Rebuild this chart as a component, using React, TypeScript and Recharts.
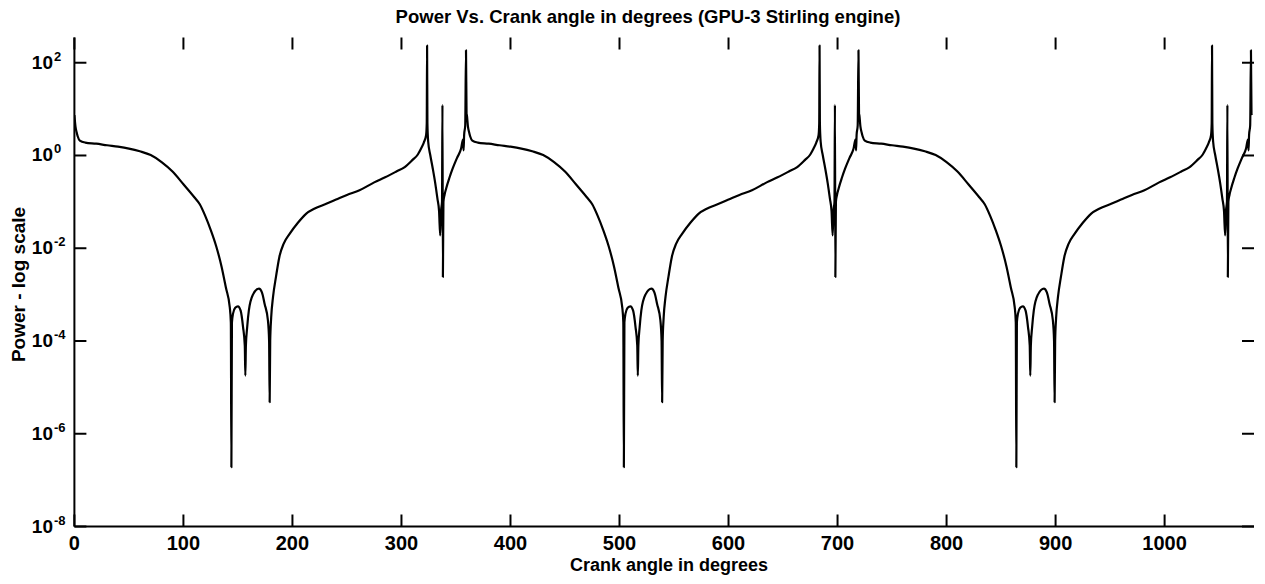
import React from "react";
import { LineChart, Line, XAxis, YAxis } from "recharts";

// ---------- data ----------
const ANGLES_C1 = [0, 1, 2, 3, 5, 10, 20, 30, 40, 50, 60, 70, 80, 90, 100, 110, 115, 120, 125, 130, 135, 139,
  142.5, 143.5, 144, 144.5, 145.5, 147.5, 150, 152.5, 154.7, 156.3, 156.8, 157.3, 158.5, 160,
  163.8, 169.3, 172, 174.5, 177.5, 178.6, 179.1, 179.6, 180.5, 182.2,
  185, 188, 192, 197.4, 205, 212.7, 220, 231, 240, 250, 261.5, 275, 285, 295, 303, 310, 315, 318, 320.5, 322.6,
  323.2, 323.5, 323.8, 324.5, 326.5, 328.7, 331, 333, 334.5, 335.5, 336.3, 337.2, 337.6, 338.0, 338.5, 339.5,
  341, 344, 347, 351, 354.7, 356.5, 357.0, 357.5, 358.5, 359.2, 359.7];
const POWER_C1 = [7.4, 4.2, 3.2, 2.6, 2.1, 1.9, 1.8, 1.66, 1.55, 1.41, 1.23, 1.02, 0.72, 0.45, 0.24, 0.126, 0.089, 0.05, 0.025, 0.0112, 0.004, 0.0014,
  5.4e-4, 2.5e-4, 1.9e-7, 2.5e-4, 3.9e-4, 5.2e-4, 5.6e-4, 4.5e-4, 2.0e-4, 7.9e-5, 1.8e-5, 7.9e-5, 2.0e-4, 4.5e-4,
  1.0e-3, 1.35e-3, 1.12e-3, 6.3e-4, 2.8e-4, 1.0e-4, 4.8e-6, 1.0e-4, 3.2e-4, 8.9e-4,
  2.5e-3, 6.5e-3, 0.0126, 0.0204, 0.0355, 0.056, 0.071, 0.091, 0.112, 0.141, 0.178, 0.263, 0.339, 0.447, 0.562, 0.794, 1.05, 1.41, 1.9, 2.75,
  5.0, 234, 5.0, 2.0, 1.0, 0.525, 0.251, 0.117, 0.063, 0.019, 0.063, 0.1, 12.3, 0.0024, 0.1, 0.141,
  0.195, 0.331, 0.525, 0.89, 1.41, 2.24, 1.29, 2.8, 4.5, 186, 7.9];

const ANGLES_C2 = [360, 361, 362, 363, 365, 370, 380, 390, 400, 410, 420, 430, 440, 450, 460, 470, 475, 480, 485, 490, 495, 499,
  502.5, 503.5, 504, 504.5, 505.5, 507.5, 510, 512.5, 514.7, 516.3, 516.8, 517.3, 518.5, 520,
  523.8, 529.3, 532, 534.5, 537.5, 538.6, 539.1, 539.6, 540.5, 542.2,
  545, 548, 552, 557.4, 565, 572.7, 580, 591, 600, 610, 621.5, 635, 645, 655, 663, 670, 675, 678, 680.5, 682.6,
  683.2, 683.5, 683.8, 684.5, 686.5, 688.7, 691, 693, 694.5, 695.5, 696.3, 697.2, 697.6, 698.0, 698.5, 699.5,
  701, 704, 707, 711, 714.7, 716.5, 717.0, 717.5, 718.5, 719.2, 719.7];
const POWER_C2 = [7.4, 4.2, 3.2, 2.6, 2.1, 1.9, 1.8, 1.66, 1.55, 1.41, 1.23, 1.02, 0.72, 0.45, 0.24, 0.126, 0.089, 0.05, 0.025, 0.0112, 0.004, 0.0014,
  5.4e-4, 2.5e-4, 1.9e-7, 2.5e-4, 3.9e-4, 5.2e-4, 5.6e-4, 4.5e-4, 2.0e-4, 7.9e-5, 1.8e-5, 7.9e-5, 2.0e-4, 4.5e-4,
  1.0e-3, 1.35e-3, 1.12e-3, 6.3e-4, 2.8e-4, 1.0e-4, 4.8e-6, 1.0e-4, 3.2e-4, 8.9e-4,
  2.5e-3, 6.5e-3, 0.0126, 0.0204, 0.0355, 0.056, 0.071, 0.091, 0.112, 0.141, 0.178, 0.263, 0.339, 0.447, 0.562, 0.794, 1.05, 1.41, 1.9, 2.75,
  5.0, 234, 5.0, 2.0, 1.0, 0.525, 0.251, 0.117, 0.063, 0.019, 0.063, 0.1, 12.3, 0.0024, 0.1, 0.141,
  0.195, 0.331, 0.525, 0.89, 1.41, 2.24, 1.29, 2.8, 4.5, 186, 7.9];

const ANGLES_C3 = [720, 721, 722, 723, 725, 730, 740, 750, 760, 770, 780, 790, 800, 810, 820, 830, 835, 840, 845, 850, 855, 859,
  862.5, 863.5, 864, 864.5, 865.5, 867.5, 870, 872.5, 874.7, 876.3, 876.8, 877.3, 878.5, 880,
  883.8, 889.3, 892, 894.5, 897.5, 898.6, 899.1, 899.6, 900.5, 902.2,
  905, 908, 912, 917.4, 925, 932.7, 940, 951, 960, 970, 981.5, 995, 1005, 1015, 1023, 1030, 1035, 1038, 1040.5, 1042.6,
  1043.2, 1043.5, 1043.8, 1044.5, 1046.5, 1048.7, 1051, 1053, 1054.5, 1055.5, 1056.3, 1057.2, 1057.6, 1058.0, 1058.5, 1059.5,
  1061, 1064, 1067, 1071, 1074.7, 1076.5, 1077.0, 1077.5, 1078.5, 1079.2, 1079.7, 1080];
const POWER_C3 = [7.4, 4.2, 3.2, 2.6, 2.1, 1.9, 1.8, 1.66, 1.55, 1.41, 1.23, 1.02, 0.72, 0.45, 0.24, 0.126, 0.089, 0.05, 0.025, 0.0112, 0.004, 0.0014,
  5.4e-4, 2.5e-4, 1.9e-7, 2.5e-4, 3.9e-4, 5.2e-4, 5.6e-4, 4.5e-4, 2.0e-4, 7.9e-5, 1.8e-5, 7.9e-5, 2.0e-4, 4.5e-4,
  1.0e-3, 1.35e-3, 1.12e-3, 6.3e-4, 2.8e-4, 1.0e-4, 4.8e-6, 1.0e-4, 3.2e-4, 8.9e-4,
  2.5e-3, 6.5e-3, 0.0126, 0.0204, 0.0355, 0.056, 0.071, 0.091, 0.112, 0.141, 0.178, 0.263, 0.339, 0.447, 0.562, 0.794, 1.05, 1.41, 1.9, 2.75,
  5.0, 234, 5.0, 2.0, 1.0, 0.525, 0.251, 0.117, 0.063, 0.019, 0.063, 0.1, 12.3, 0.0024, 0.1, 0.141,
  0.195, 0.331, 0.525, 0.89, 1.41, 2.24, 1.29, 2.8, 4.5, 186, 7.9, 7.4];

const X_TICKS = [0, 100, 200, 300, 400, 500, 600, 700, 800, 900, 1000];
const Y_TICKS = [1e-8, 1e-6, 1e-4, 1e-2, 1, 100];
const Y_TICK_EXPONENTS = ["-8", "-6", "-4", "-2", "0", "2"];

const TITLE = "Power Vs. Crank angle in degrees (GPU-3 Stirling engine)";
const X_LABEL = "Crank angle in degrees";
const Y_LABEL = "Power - log scale";

// ---------- layout ----------
const W = 1257;
const H = 576;
const PL = 66.4;
const PR = 1246;
const PT = 29.5;
const PB = 518.5;
const TICK_LEN = 12;
const FONT = "'Liberation Sans', Arial, sans-serif";

const data = [
  ...ANGLES_C1.map((a, i) => ({ angle: a, power: POWER_C1[i] })),
  ...ANGLES_C2.map((a, i) => ({ angle: a, power: POWER_C2[i] })),
  ...ANGLES_C3.map((a, i) => ({ angle: a, power: POWER_C3[i] })),
];

const XTick = (props: any) => {
  const { x, payload } = props;
  return (
    <g>
      <line x1={x} x2={x} y1={PB} y2={PB - TICK_LEN} stroke="#000" strokeWidth={2} />
      <line x1={x} x2={x} y1={PT} y2={PT + TICK_LEN} stroke="#000" strokeWidth={2} />
      <text x={x} y={PB + 23.5} textAnchor="middle" fontFamily={FONT} fontWeight="bold" fontSize={20} fill="#000">
        {payload.value}
      </text>
    </g>
  );
};

const YTick = (props: any) => {
  const { y, payload, index } = props;
  const exp = Y_TICK_EXPONENTS[Y_TICKS.indexOf(payload.value)] ?? Y_TICK_EXPONENTS[index];
  return (
    <g>
      <line x1={PL} x2={PL + TICK_LEN} y1={y} y2={y} stroke="#000" strokeWidth={2} />
      <line x1={PR - TICK_LEN} x2={PR} y1={y} y2={y} stroke="#000" strokeWidth={2} />
      <text x={45} y={y + 6} textAnchor="end" fontFamily={FONT} fontWeight="bold" fontSize={19} fill="#000">
        10
      </text>
      <text x={46} y={y - 2} textAnchor="start" fontFamily={FONT} fontWeight="bold" fontSize={13} fill="#000">
        {exp}
      </text>
    </g>
  );
};

export default function App() {
  return (
    <div style={{ position: "relative", width: W, height: H, background: "#fff" }}>
      <LineChart width={W} height={H} data={data} margin={{ top: PT, right: W - PR, bottom: H - PB - 40, left: 0 }}>
        <XAxis
          dataKey="angle"
          type="number"
          domain={[0, 1082]}
          ticks={X_TICKS}
          interval={0}
          height={40}
          tickLine={false}
          axisLine={{ stroke: "#000", strokeWidth: 2 }}
          tick={<XTick />}
          allowDataOverflow
        />
        <XAxis
          xAxisId="top"
          orientation="top"
          type="number"
          domain={[0, 1082]}
          height={0}
          tick={false}
          tickLine={false}
          axisLine={{ stroke: "#000", strokeWidth: 2 }}
        />
        <YAxis
          type="number"
          scale="log"
          domain={[1e-8, 350]}
          ticks={Y_TICKS}
          interval={0}
          width={PL}
          allowDataOverflow
          tickLine={false}
          axisLine={{ stroke: "#000", strokeWidth: 2 }}
          tick={<YTick />}
        />
        <YAxis
          yAxisId="right"
          orientation="right"
          type="number"
          domain={[0, 1]}
          width={0}
          tick={false}
          tickLine={false}
          axisLine={{ stroke: "#000", strokeWidth: 2 }}
        />
        <Line
          dataKey="power"
          type="monotone"
          stroke="#000"
          strokeWidth={2.2}
          dot={false}
          activeDot={false}
          isAnimationActive={false}
          strokeLinejoin="round"
        />
      </LineChart>
      <svg
        width={W}
        height={H}
        style={{ position: "absolute", left: 0, top: 0, pointerEvents: "none", overflow: "visible" }}
      >
        <text x={640} y={15} textAnchor="middle" fontFamily={FONT} fontWeight="bold" fontSize={18.5} fill="#000">
          {TITLE}
        </text>
        <text x={661} y={563} textAnchor="middle" fontFamily={FONT} fontWeight="bold" fontSize={18} fill="#000">
          {X_LABEL}
        </text>
        <text
          x={17}
          y={276.5}
          textAnchor="middle"
          fontFamily={FONT}
          fontWeight="bold"
          fontSize={19}
          fill="#000"
          transform="rotate(-90 17 276.5)"
        >
          {Y_LABEL}
        </text>
      </svg>
    </div>
  );
}
